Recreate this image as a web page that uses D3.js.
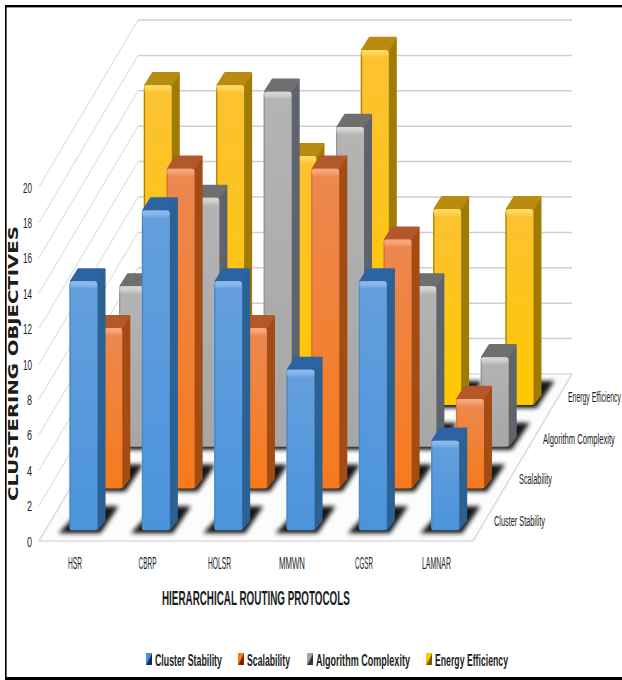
<!DOCTYPE html>
<html>
<head>
<meta charset="utf-8">
<style>
html,body{margin:0;padding:0;background:#fff;}
svg{display:block;}
text{font-family:"Liberation Sans","Noto Sans",sans-serif;fill:#1c1c1c;}
</style>
<script src="https://cdn.jsdelivr.net/npm/d3@7/dist/d3.min.js"></script>
</head>
<body>
<svg id="chart" width="622" height="680"></svg>
<script>
const categories = ["HSR", "CBRP", "HOLSR", "MMWN", "CGSR", "LAMNAR"];
const seriesNames = ["Cluster Stability", "Scalability", "Algorithm Complexity", "Energy Efficiency"];
const clusterStability = [14, 18, 14, 9, 14, 5];
const scalability = [9, 18, 9, 18, 14, 5];
const algorithmComplexity = [9, 14, 20, 18, 9, 5];
const energyEfficiency = [18, 18, 14, 20, 11, 11];
const seriesValues = [clusterStability, scalability, algorithmComplexity, energyEfficiency];
const valueTicks = [0, 2, 4, 6, 8, 10, 12, 14, 16, 18, 20];
// label extents along x, in the same order as the categories and series
const categoryLabelWidths = [14, 18, 23, 26, 18, 29];
const categoryLabelCentres = [75, 147.5, 219.5, 292, 364, 436.5];
const depthLabelStart = [494, 519, 543, 568];
const depthLabelWidths = [51, 33, 72, 53];
const depthLabelY = [521, 479, 439, 397];
const legendTextStart = [155, 247, 316, 435];
const legendTextWidths = [67, 43, 94, 73];

const palette = [
  {hi:"#8fbdec", face0:"#659fdd", face1:"#4a94dc", edge:"#4a88c8", side:"#2b6193", top:"#2c64a3", dark:"#0d2a66"},
  {hi:"#f8ab80", face0:"#ec8850", face1:"#f77a1c", edge:"#dc7030", side:"#a34c14", top:"#b4572b", dark:"#7a1f06"},
  {hi:"#d8d8d8", face0:"#b4b4b4", face1:"#a6a6a6", edge:"#969696", side:"#5f646c", top:"#6f6f6f", dark:"#333333"},
  {hi:"#ffdc62", face0:"#fcc132", face1:"#ffc800", edge:"#a88306", side:"#a17c02", top:"#b78c10", dark:"#7a5a00"}
];

// oblique floor projection: width along x, depth runs up and to the right
const floorLeft = 39, floorRight = 473, floorY = 541;
const depthDx = 99, depthDy = -167;
const faceW = 28, barDx = 8, barDy = -13;

const x = d3.scaleBand().domain(categories).range([floorLeft, floorRight]);
const depth = d3.scaleBand().domain(d3.range(4)).range([0, 1]);
const h = d3.scaleLinear().domain([0, 20]).range([0, 354]);
const yFront = v => floorY - h(v);
const yBack = v => yFront(v) + depthDy;

const svg = d3.select("#chart");
const defs = svg.append("defs");

defs.append("filter").attr("id", "soft").attr("x", "-40%").attr("y", "-60%").attr("width", "180%").attr("height", "220%")
  .append("feGaussianBlur").attr("stdDeviation", 2.3);

palette.forEach((c, i) => {
  const g = defs.append("linearGradient").attr("id", "face" + i).attr("x1", 0).attr("x2", 0).attr("y1", 0).attr("y2", 1);
  g.append("stop").attr("offset", "0%").attr("stop-color", c.face0);
  g.append("stop").attr("offset", "100%").attr("stop-color", c.face1);
  const b = defs.append("linearGradient").attr("id", "bevel" + i).attr("x1", 0).attr("x2", 0).attr("y1", 0).attr("y2", 1);
  b.append("stop").attr("offset", "0%").attr("stop-color", c.hi);
  b.append("stop").attr("offset", "45%").attr("stop-color", c.hi).attr("stop-opacity", 0.75);
  b.append("stop").attr("offset", "100%").attr("stop-color", c.hi).attr("stop-opacity", 0);
  const m = defs.append("linearGradient").attr("id", "key" + i).attr("x1", 0).attr("x2", 1).attr("y1", 0).attr("y2", 1);
  m.append("stop").attr("offset", "45%").attr("stop-color", c.face1);
  m.append("stop").attr("offset", "60%").attr("stop-color", c.dark);
});

// Back wall and floor
svg.append("path")
  .attr("d", d3.line()([[floorLeft, floorY], [floorRight, floorY], [floorRight + depthDx, floorY + depthDy], [floorLeft + depthDx, floorY + depthDy]]) + "Z")
  .attr("fill", "#fcfcfc").attr("stroke", "#dcdcdc").attr("stroke-width", 1.6);

svg.append("g").selectAll("line").data(valueTicks.filter(v => v > 0)).join("line")
  .attr("x1", floorLeft + depthDx).attr("x2", floorRight + depthDx)
  .attr("y1", yBack).attr("y2", yBack)
  .attr("stroke", "#cfcfcf").attr("stroke-width", 1.5);

svg.append("g").selectAll("line").data(valueTicks.filter(v => v > 0)).join("line")
  .attr("x1", floorLeft).attr("x2", floorLeft + depthDx)
  .attr("y1", yFront).attr("y2", yBack)
  .attr("stroke", "#d6d6d6").attr("stroke-width", 1);

// Bars, back row first so nearer rows overlap them
function drawBar(g, row, cat, value) {
  const c = palette[row];
  const d = depth(row) + depth.bandwidth() / 2;
  const cx = x(cat) + x.bandwidth() / 2 + d * depthDx;
  const baseMid = floorY + d * depthDy;
  const left = cx - (faceW + barDx) / 2;
  const right = left + faceW;
  const bottom = baseMid + 10;
  const top = bottom - h(value) - 1;
  const poly = pts => d3.line()(pts) + "Z";

  g.append("path")
    .attr("d", poly([[left - 11, bottom + 3], [right + 3, bottom + 3], [right + barDx + 13, bottom + barDy - 11], [left + 14, bottom + barDy - 11]]))
    .attr("fill", "#181818").attr("filter", "url(#soft)");

  g.append("path").attr("d", poly([[right, top + 1], [right + barDx - 1, top + barDy + 2], [right + barDx - 1, bottom + barDy + 3], [right, bottom - 1]]))
    .attr("fill", c.side).attr("stroke", c.side).attr("stroke-width", 2).attr("stroke-linejoin", "round");
  g.append("path").attr("d", poly([[left + 1.5, top], [left + barDx + 1, top + barDy + 1], [right + barDx - 1, top + barDy + 1], [right - 1, top]]))
    .attr("fill", c.top).attr("stroke", c.top).attr("stroke-width", 2.4).attr("stroke-linejoin", "round");
  g.append("rect").attr("x", left).attr("y", top).attr("width", faceW).attr("height", bottom - top).attr("rx", 2.5)
    .attr("fill", `url(#face${row})`);
  g.append("rect").attr("x", left).attr("y", top + 2).attr("width", 1.3).attr("height", bottom - top - 4).attr("fill", c.edge);
  g.append("rect").attr("x", left + 0.5).attr("y", top).attr("width", faceW - 1).attr("height", 8).attr("rx", 2.5)
    .attr("fill", `url(#bevel${row})`);
}

[3, 2, 1, 0].forEach(row => {
  const g = svg.append("g");
  categories.forEach((cat, i) => drawBar(g, row, cat, seriesValues[row][i]));
});

// Places a label at (px, py) and squeezes it sideways to a measured run length
function fitted(sel, px, py, width, rotation) {
  sel.each(function () {
    const natural = this.getComputedTextLength();
    const turn = rotation ? ` rotate(${rotation})` : "";
    d3.select(this).attr("transform", `translate(${px},${py})${turn} scale(${width / natural},1)`);
  });
  return sel;
}

// Value axis labels
svg.append("g").selectAll("text").data(valueTicks).join("text")
  .attr("font-size", 15)
  .text(v => v)
  .each(function (v) {
    const w = v < 10 ? 5 : 9;
    fitted(d3.select(this), 32 - w, yFront(v) + 5.5, w);
  });

// Category labels
svg.append("g").selectAll("text").data(categories).join("text")
  .attr("font-size", 16)
  .text(d => d)
  .each(function (d, i) {
    fitted(d3.select(this), categoryLabelCentres[i] - categoryLabelWidths[i] / 2, 569, categoryLabelWidths[i]);
  });

// Depth axis labels
svg.append("g").selectAll("text").data(seriesNames).join("text")
  .attr("font-size", 15)
  .text(d => d)
  .each(function (d, i) {
    fitted(d3.select(this), depthLabelStart[i], depthLabelY[i] + 5, depthLabelWidths[i]);
  });

// Axis titles
fitted(svg.append("text").attr("font-size", 21).attr("font-weight", 700).text("HIERARCHICAL ROUTING PROTOCOLS"), 162, 605, 188);

fitted(svg.append("text").attr("font-size", 13.5).attr("font-weight", 700)
  .style("font-family", '"DejaVu Sans",sans-serif').text("CLUSTERING OBJECTIVES"), 18, 501, 275, -90);

// Legend
const legend = svg.append("g");
seriesNames.forEach((name, i) => {
  legend.append("rect").attr("x", legendTextStart[i] - 9).attr("y", 653).attr("width", 6).attr("height", 12).attr("fill", `url(#key${i})`);
  fitted(legend.append("text").attr("font-size", 17).attr("font-weight", 700).text(name), legendTextStart[i], 666, legendTextWidths[i]);
});

// Page frame: top, left and bottom rules
svg.append("rect").attr("x", 5).attr("y", 5).attr("width", 617).attr("height", 2.4).attr("fill", "#000");
svg.append("rect").attr("x", 5).attr("y", 5).attr("width", 1.6).attr("height", 675).attr("fill", "#000");
svg.append("rect").attr("x", 5).attr("y", 677).attr("width", 617).attr("height", 3).attr("fill", "#000");
</script>
</body>
</html>
